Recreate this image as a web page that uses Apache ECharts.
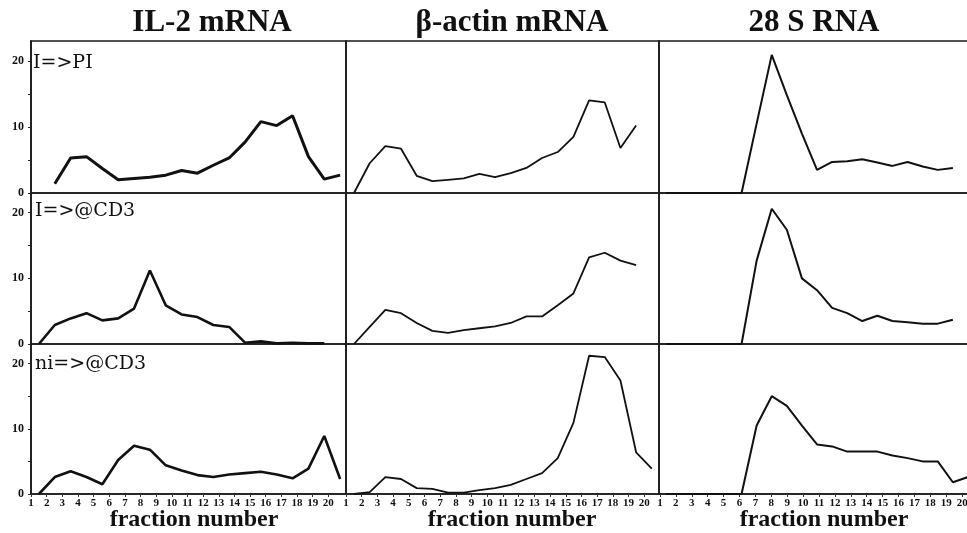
<!DOCTYPE html>
<html>
<head>
<meta charset="utf-8">
<title>IL-2 / beta-actin / 28S gradient profiles</title>
<script src="https://cdn.jsdelivr.net/npm/echarts@6/dist/echarts.min.js"></script>
<style>
  html, body { margin: 0; padding: 0; background: #fff; }
  #main { width: 967px; height: 533px; }
</style>
</head>
<body>
<div id="main"></div>
<script>
// fraction numbers the readings belong to, and the tick labels under each column
var fractions = [1, 2, 3, 4, 5, 6, 7, 8, 9, 10, 11, 12, 13, 14, 15, 16, 17, 18, 19, 20, 21];
var tickLabels = [1, 2, 3, 4, 5, 6, 7, 8, 9, 10, 11, 12, 13, 14, 15, 16, 17, 18, 19, 20];
var yLabels = [0, 10, 20];
var yTicks = [0, 5, 10, 15, 20];

var columnTitles = ['IL-2 mRNA', 'β-actin mRNA', '28 S RNA'];
var rowLabels = ['I=>PI', 'I=>@CD3', 'ni=>@CD3'];
var xName = 'fraction number';

// IL-2 mRNA (null = no reading)
var il2PI    = [null, 1.4, 5.3, 5.5, 3.7, 2.0, 2.2, 2.4, 2.7, 3.4, 3.0, 4.2, 5.3, 7.7, 10.8, 10.2, 11.7, 5.5, 2.1, 2.7];
var il2CD3   = [0, 2.9, 3.9, 4.7, 3.6, 3.9, 5.4, 11.2, 5.9, 4.5, 4.1, 2.9, 2.6, 0.2, 0.4, 0.1, 0.2, 0.1, 0.1];
var il2NiCD3 = [0, 2.6, 3.5, 2.6, 1.5, 5.2, 7.4, 6.8, 4.4, 3.6, 2.9, 2.6, 3.0, 3.2, 3.4, 3.0, 2.4, 3.9, 8.9, 2.3];

// beta-actin mRNA
var actinPI    = [0, 4.5, 7.1, 6.7, 2.6, 1.8, 2.0, 2.2, 2.9, 2.4, 3.0, 3.8, 5.3, 6.2, 8.5, 14.0, 13.7, 6.8, 10.2];
var actinCD3   = [0, 2.6, 5.2, 4.7, 3.2, 2.0, 1.7, 2.1, 2.4, 2.7, 3.2, 4.2, 4.2, 5.9, 7.7, 13.2, 13.9, 12.7, 12.0];
var actinNiCD3 = [0, 0.3, 2.6, 2.3, 0.9, 0.8, 0.2, 0.2, 0.6, 0.9, 1.4, 2.3, 3.2, 5.5, 10.9, 21.2, 21.0, 17.4, 6.4, 3.9];

// 28 S RNA
var s28PI    = [0, 0, 0, 0, 0, 0, 10.5, 20.9, 14.8, 9.0, 3.5, 4.7, 4.8, 5.1, 4.6, 4.1, 4.7, 4.0, 3.5, 3.8];
var s28CD3   = [0, 0, 0, 0, 0, 0, 12.7, 20.6, 17.4, 10.0, 8.2, 5.5, 4.7, 3.5, 4.3, 3.5, 3.3, 3.1, 3.1, 3.7];
var s28NiCD3 = [0, 0, 0, 0, 0, 0, 10.5, 15.0, 13.5, 10.5, 7.6, 7.3, 6.5, 6.5, 6.5, 5.9, 5.5, 5.0, 5.0, 1.8, 2.6];

// rows x columns
var panels = [
  [il2PI, actinPI, s28PI],
  [il2CD3, actinCD3, s28CD3],
  [il2NiCD3, actinNiCD3, s28NiCD3]
];

// layout (pixels)
var colLeft = [31, 346, 659];
var colWidth = [315, 313, 310];
var rowTop = [41, 193, 344];
var rowHeight = [152, 151, 150];
// the printed curves sit a bit right of the printed tick labels, so the
// data and the labels each get their own x scale
var dataRange = [[0.5, 20.37], [0.49, 20.46], [0.53, 21.07]];
var labelRange = [[1, 21.13], [1, 20.94], [0.94, 20.43]];
var lineWidths = [[3, 2.6, 2.6], [1.8, 1.8, 1.8], [2, 2, 2]];
var titleX = [212, 512, 814];
var nameX = [194, 512, 824];
var rowLabelPos = [[33, 63], [35, 211], [35, 364]];

var ink = '#111';
var serif = '"Liberation Serif", "DejaVu Serif", serif';

function pairs(values) {
  var out = [];
  values.forEach(function (v, i) {
    if (v !== null) out.push([fractions[i], v]);
  });
  return out;
}

var grids = [], xAxes = [], yAxes = [], series = [];

for (var r = 0; r < 3; r++) {
  for (var c = 0; c < 3; c++) {
    var g = grids.length;
    grids.push({
      left: colLeft[c], top: rowTop[r], width: colWidth[c], height: rowHeight[r],
      show: true, borderColor: '#1a1a1a', borderWidth: 1.6,
      containLabel: false, outerBoundsMode: 'none'
    });

    var xi = xAxes.length;
    xAxes.push({
      type: 'value', gridIndex: g, position: 'top', show: false,
      min: dataRange[c][0], max: dataRange[c][1]
    });

    if (r === 2) {
      xAxes.push({
        type: 'value', gridIndex: g, position: 'bottom',
        min: labelRange[c][0], max: labelRange[c][1],
        axisLine: { show: true, onZero: false, lineStyle: { color: '#1a1a1a', width: 1.6 } },
        axisTick: { show: true, length: 3, customValues: tickLabels, lineStyle: { color: '#333' } },
        axisLabel: {
          customValues: tickLabels, margin: 4, color: ink,
          fontFamily: serif, fontWeight: 'bold', fontSize: 11
        },
        splitLine: { show: false }
      });
    }

    yAxes.push({
      type: 'value', gridIndex: g, position: 'left', show: c === 0,
      min: 0, max: 23,
      axisLine: { show: true, lineStyle: { color: '#1a1a1a', width: 1.6 } },
      axisTick: { show: true, length: 3, customValues: yTicks, lineStyle: { color: '#222' } },
      axisLabel: {
        customValues: yLabels, margin: 7, color: ink,
        fontFamily: serif, fontWeight: 'bold', fontSize: 12
      },
      splitLine: { show: false }
    });

    series.push({
      type: 'line', xAxisIndex: xi, yAxisIndex: g,
      data: pairs(panels[r][c]),
      showSymbol: false, symbol: 'none', silent: true,
      lineStyle: { color: ink, width: lineWidths[c][r] }
    });
  }
}

var texts = [];
columnTitles.forEach(function (t, c) {
  texts.push({
    type: 'text', x: titleX[c], y: 23, silent: true,
    style: {
      text: t, font: 'bold 31px ' + serif, fill: ink,
      align: 'center', verticalAlign: 'middle',
      textAlign: 'center', textVerticalAlign: 'middle'
    }
  });
  texts.push({
    type: 'text', x: nameX[c], y: 520, silent: true,
    style: {
      text: xName, font: 'bold 24px ' + serif, fill: ink,
      align: 'center', verticalAlign: 'middle',
      textAlign: 'center', textVerticalAlign: 'middle'
    }
  });
});
rowLabels.forEach(function (t, r) {
  texts.push({
    type: 'text', x: rowLabelPos[r][0], y: rowLabelPos[r][1], silent: true,
    style: {
      text: t, font: '19px "DejaVu Serif", serif', fill: ink,
      align: 'left', verticalAlign: 'middle',
      textAlign: 'left', textVerticalAlign: 'middle'
    }
  });
});

var chart = echarts.init(document.getElementById('main'));
chart.setOption({
  backgroundColor: '#fff',
  animation: false,
  grid: grids,
  xAxis: xAxes,
  yAxis: yAxes,
  series: series,
  graphic: texts
});
</script>
</body>
</html>
